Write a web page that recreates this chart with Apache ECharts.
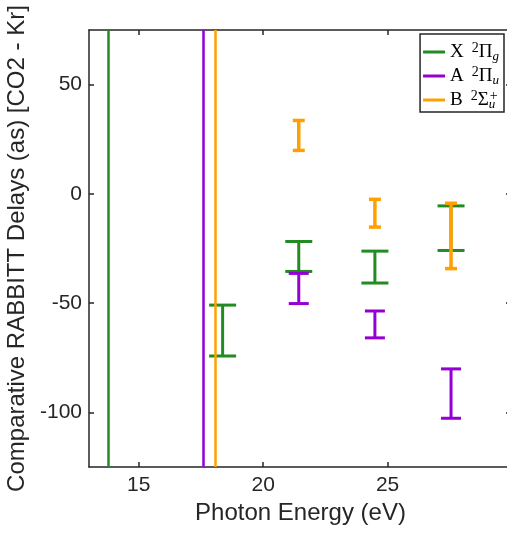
<!DOCTYPE html>
<html>
<head>
<meta charset="utf-8">
<script src="https://cdn.jsdelivr.net/npm/echarts@6/dist/echarts.min.js"></script>
<style>
html,body{margin:0;padding:0;background:#fff;}
#chart{width:507px;height:538px;}
</style>
</head>
<body>
<div id="chart"></div>
<script>
// ---- data ----
const photonEnergies = [18.37, 21.43, 24.49, 27.55];
const xStateLow  = [-74.2, -35.5, -40.8, -25.9];
const xStateHigh = [-50.9, -21.8, -26.2, -5.5];
const aStateLow  = [null, -50.2, -65.9, -102.7];
const aStateHigh = [null, -36.4, -53.6, -80.1];
const bStateLow  = [null, 19.9, -15.2, -34.2];
const bStateHigh = [null, 33.6, -2.5, -4.3];
const ionizationEnergies = [13.78, 17.59, 18.08];
const stateNames = ['X', 'A', 'B'];
const xTicks = [15, 20, 25, 30];
const yTicks = [-100, -50, 0, 50];

const colors = ['#228B22', '#9400D3', '#FFA000'];
const capWidths = [27, 20, 12];
const ink = '#262626';

function bars(lo, hi) {
  return photonEnergies.map((e, i) => [e, lo[i], hi[i]]).filter(d => d[1] != null);
}
function errorBarRenderer(capW, color, lw) {
  return function (params, api) {
    const x = api.value(0), lo = api.value(1), hi = api.value(2);
    const pLo = api.coord([x, lo]);
    const pHi = api.coord([x, hi]);
    const h = capW / 2;
    const st = { stroke: color, lineWidth: lw };
    return {
      type: 'group',
      children: [
        { type: 'line', shape: { x1: pLo[0], y1: pLo[1], x2: pHi[0], y2: pHi[1] }, style: st },
        { type: 'line', shape: { x1: pLo[0] - h, y1: pLo[1], x2: pLo[0] + h, y2: pLo[1] }, style: st },
        { type: 'line', shape: { x1: pHi[0] - h, y1: pHi[1], x2: pHi[0] + h, y2: pHi[1] }, style: st }
      ]
    };
  };
}
const lowArrays = [xStateLow, aStateLow, bStateLow];
const highArrays = [xStateHigh, aStateHigh, bStateHigh];

const series = [];
stateNames.forEach((n, k) => {
  series.push({
    type: 'custom',
    name: n + '_err',
    xAxisIndex: 0, yAxisIndex: 0,
    renderItem: errorBarRenderer(capWidths[k], colors[k], k === 2 ? 3.5 : 3),
    data: bars(lowArrays[k], highArrays[k]),
    z: 2 + k,
    silent: true
  });
});
stateNames.forEach((n, k) => {
  series.push({
    type: 'line',
    name: n,
    color: colors[k],
    data: [],
    z: 6,
    markLine: {
      silent: true,
      symbol: 'none',
      label: { show: false },
      lineStyle: { color: colors[k], width: 2.5, type: 'solid' },
      data: [{ xAxis: ionizationEnergies[k] }]
    }
  });
});

const legendText = {
  X: '{n|X}{sp| }{sup|2}{n|Π}{sub|g}',
  A: '{n|A}{sp| }{sup|2}{n|Π}{sub|u}',
  B: '{n|B}{sp| }{sup|2}{n|Σ}{subz|u}{sup|+}'
};

const serif = 'Liberation Serif';
const chart = echarts.init(document.getElementById('chart'), null, { renderer: 'canvas' });
chart.setOption({
  animation: false,
  backgroundColor: '#fff',
  grid: { left: 89, top: 30, right: -5, bottom: 71, containLabel: false, outerBoundsMode: 'none' },
  xAxis: [{
    type: 'value', min: 13, max: 30, position: 'bottom',
    name: 'Photon Energy (eV)', nameLocation: 'middle', nameGap: 29,
    nameTextStyle: { fontFamily: 'Liberation Sans', fontSize: 24, color: ink },
    axisLine: { show: true, onZero: false, lineStyle: { color: ink, width: 1.5 } },
    axisTick: { show: true, inside: true, length: 5, customValues: xTicks, lineStyle: { color: ink, width: 1.5 } },
    axisLabel: { show: true, customValues: [15, 20, 25], margin: 8, fontFamily: 'Liberation Sans', fontSize: 21, color: ink },
    splitLine: { show: false }
  }, {
    type: 'value', min: 13, max: 30, position: 'top',
    axisLine: { show: true, onZero: false, lineStyle: { color: ink, width: 1.5 } },
    axisTick: { show: true, inside: true, length: 5, customValues: xTicks, lineStyle: { color: ink, width: 1.5 } },
    axisLabel: { show: false },
    splitLine: { show: false }
  }],
  yAxis: [{
    type: 'value', min: -125, max: 75, position: 'left',
    name: 'Comparative RABBITT Delays (as) [CO2 - Kr]', nameLocation: 'middle', nameGap: 52, nameRotate: 90,
    nameTextStyle: { fontFamily: 'Liberation Sans', fontSize: 24, color: ink },
    axisLine: { show: true, onZero: false, lineStyle: { color: ink, width: 1.5 } },
    axisTick: { show: true, inside: true, length: 5, customValues: yTicks, lineStyle: { color: ink, width: 1.5 } },
    axisLabel: { show: true, customValues: yTicks, margin: 7, fontFamily: 'Liberation Sans', fontSize: 21, color: ink },
    splitLine: { show: false }
  }, {
    type: 'value', min: -125, max: 75, position: 'right',
    axisLine: { show: true, onZero: false, lineStyle: { color: ink, width: 1.5 } },
    axisTick: { show: true, inside: true, length: 6, customValues: yTicks, lineStyle: { color: ink, width: 1.5 } },
    axisLabel: { show: false },
    splitLine: { show: false }
  }],
  legend: {
    data: stateNames,
    orient: 'vertical',
    right: 3, top: 34,
    padding: [7, 5, 1, 3],
    itemGap: 2,
    itemWidth: 22, itemHeight: 3,
    icon: 'rect',
    backgroundColor: '#fff',
    borderColor: ink, borderWidth: 1.5, borderRadius: 0,
    selectedMode: false,
    formatter: name => legendText[name],
    textStyle: {
      color: '#000',
      rich: {
        n: { fontFamily: serif, fontSize: 19, lineHeight: 22, color: '#000' },
        sp: { fontFamily: serif, fontSize: 19, lineHeight: 22, width: 8, color: '#000' },
        sup: { fontFamily: serif, fontSize: 14, lineHeight: 15, verticalAlign: 'top', color: '#000' },
        sub: { fontFamily: serif, fontSize: 13, fontStyle: 'italic', lineHeight: 12, verticalAlign: 'bottom', color: '#000' },
        subz: { fontFamily: serif, fontSize: 13, fontStyle: 'italic', lineHeight: 12, verticalAlign: 'bottom', width: 1, color: '#000' }
      }
    }
  },
  series: series
});
</script>
</body>
</html>
